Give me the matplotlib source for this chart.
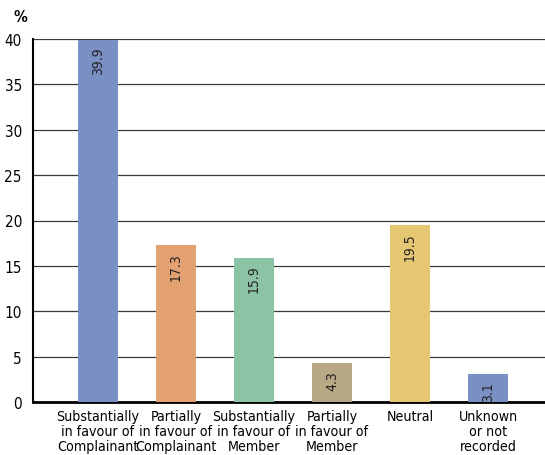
import matplotlib
matplotlib.use("Agg")
import matplotlib.pyplot as plt

categories = [
    "Substantially\nin favour of\nComplainant",
    "Partially\nin favour of\nComplainant",
    "Substantially\nin favour of\nMember",
    "Partially\nin favour of\nMember",
    "Neutral",
    "Unknown\nor not\nrecorded",
]
values = [39.9, 17.3, 15.9, 4.3, 19.5, 3.1]
colors = ["#7A8FC4", "#E3A171", "#8CC3A7", "#B9A886", "#E5C673", "#7A8FC4"]
yticks = [0, 5, 10, 15, 20, 25, 30, 35, 40]

plt.rcParams["font.family"] = ["DejaVu Sans"]
plt.rcParams["font.stretch"] = "condensed"

fig = plt.figure(figsize=(5.45, 4.56), dpi=100)
ax = fig.add_axes([33 / 545, 1 - 403 / 456, 1 - 33 / 545, 363 / 456])

x = list(range(len(values)))
ax.bar(x, values, width=0.51, color=colors, zorder=3)

for xi, v in zip(x, values):
    ax.annotate(f"{v:.1f}", (xi, v), xytext=(0, -5), textcoords="offset points",
                rotation=90, ha="center", va="top", fontsize=10,
                color="#222222", zorder=4)

ax.set_ylim(0, 40)
ax.set_xlim(-0.833, 5.73)
ax.set_yticks(yticks)
ax.set_yticklabels([str(t) for t in yticks], fontsize=11)
ax.yaxis.grid(True, color="#3a3a3a", linewidth=0.9, zorder=0)
ax.set_axisbelow(True)

ax.set_xticks(x)
ax.set_xticklabels(categories, fontsize=10.2, linespacing=1.08)
ax.tick_params(axis="x", length=0, pad=5)
ax.tick_params(axis="y", length=0, pad=8)

for side in ["top", "right"]:
    ax.spines[side].set_visible(False)
ax.spines["left"].set_color("black")
ax.spines["left"].set_linewidth(1.5)
ax.spines["bottom"].set_color("black")
ax.spines["bottom"].set_linewidth(2.0)

fig.text(20 / 545, 1 - 18 / 456, "%", fontsize=11, fontweight="bold",
         ha="center", va="center")

fig.savefig("out.png", dpi=100)
